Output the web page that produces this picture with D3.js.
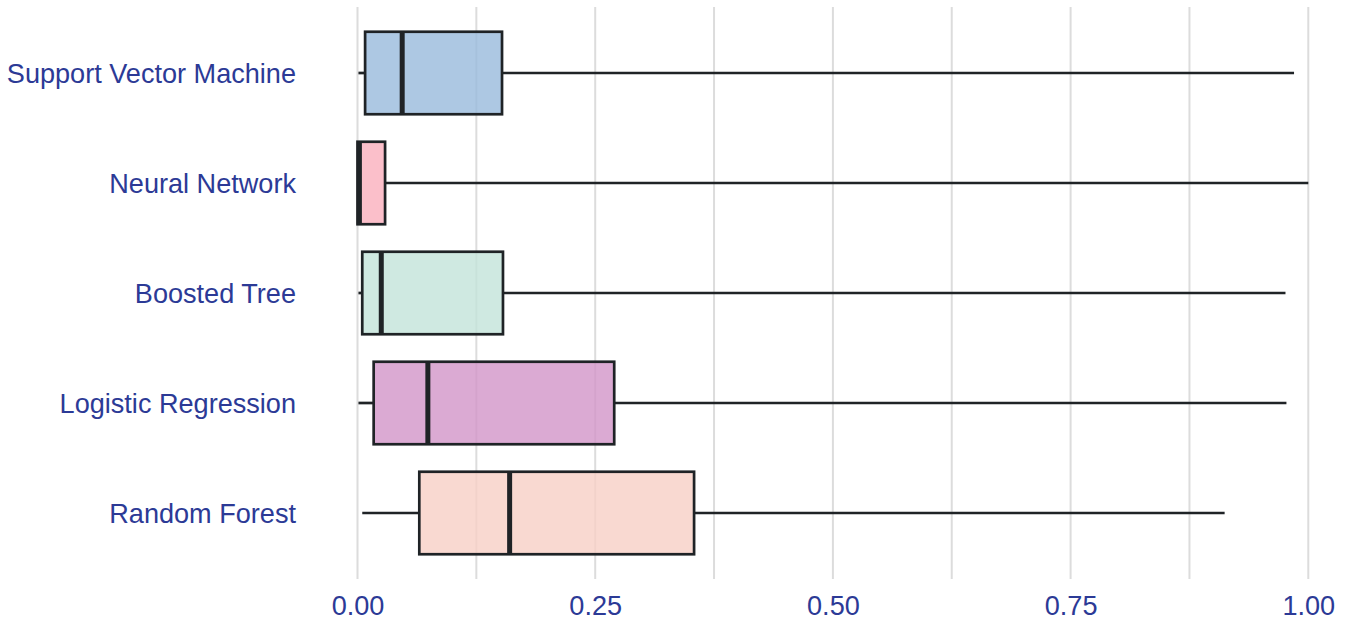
<!DOCTYPE html>
<html>
<head>
<meta charset="utf-8">
<script src="https://cdn.jsdelivr.net/npm/d3@7"></script>
<style>
  html, body { margin: 0; padding: 0; background: #fff; }
  svg { display: block; }
</style>
</head>
<body>
<svg id="chart" width="1349" height="623"></svg>
<script>
const categories = ["Support Vector Machine", "Neural Network", "Boosted Tree", "Logistic Regression", "Random Forest"];
const whiskerLow = [0.001, 0.000, 0.001, 0.001, 0.005];
const q1Values   = [0.008, 0.000, 0.005, 0.017, 0.065];
const medians    = [0.047, 0.002, 0.025, 0.074, 0.160];
const q3Values   = [0.152, 0.029, 0.153, 0.270, 0.354];
const whiskerHigh= [0.985, 1.000, 0.976, 0.977, 0.912];
const fillColors = ["#98badc", "#faafbd", "#c3e3d9", "#d295c8", "#f8d0c6"];
const tickValues = [0, 0.25, 0.5, 0.75, 1.0];
const gridValues = [0, 0.125, 0.25, 0.375, 0.5, 0.625, 0.75, 0.875, 1.0];

const svg = d3.select("#chart");
const x = d3.scaleLinear().domain([0, 1]).range([357.5, 1308.3]);
const y = d3.scaleLinear().domain([-0.6, 4.6]).range([7, 579]);
const boxH = (y(1) - y(0)) * 0.75;
const textColor = "#2c3a96";
const lineColor = "#1f2326";
const font = "'Liberation Sans', Arial, sans-serif";
const fontSize = 27.1;

// grid
svg.append("g").selectAll("line").data(gridValues).join("line")
  .attr("x1", d => x(d)).attr("x2", d => x(d))
  .attr("y1", 7).attr("y2", 579)
  .attr("stroke", "#dcdcdc").attr("stroke-width", 2);

// x axis labels
const xAxis = d3.axisBottom(x).tickValues(tickValues).tickFormat(d3.format(".2f")).tickSize(0).tickPadding(0);
const gx = svg.append("g").attr("transform", "translate(0,582)").call(xAxis);
gx.select(".domain").remove();
gx.selectAll("text").attr("font-family", font).attr("font-size", fontSize)
  .attr("fill", textColor).attr("dy", "1.2em");

// y labels
const idx = categories.map((c, i) => i);
svg.append("g").selectAll("text").data(categories).join("text")
  .attr("x", 296).attr("y", (d, i) => y(i) + 1).attr("dy", "0.35em")
  .attr("text-anchor", "end").attr("font-family", font).attr("font-size", fontSize)
  .attr("fill", textColor).text(d => d);

const g = svg.append("g");
idx.forEach(i => {
  const cy = y(i);
  g.append("line").attr("x1", x(whiskerLow[i])).attr("x2", x(q1Values[i]))
    .attr("y1", cy).attr("y2", cy).attr("stroke", lineColor).attr("stroke-width", 2.7);
  g.append("line").attr("x1", x(q3Values[i])).attr("x2", x(whiskerHigh[i]))
    .attr("y1", cy).attr("y2", cy).attr("stroke", lineColor).attr("stroke-width", 2.7);
  g.append("rect").attr("x", x(q1Values[i])).attr("y", cy - boxH / 2)
    .attr("width", x(q3Values[i]) - x(q1Values[i])).attr("height", boxH)
    .attr("fill", fillColors[i]).attr("fill-opacity", 0.8)
    .attr("stroke", lineColor).attr("stroke-width", 2.7);
  g.append("line").attr("x1", x(medians[i])).attr("x2", x(medians[i]))
    .attr("y1", cy - boxH / 2).attr("y2", cy + boxH / 2)
    .attr("stroke", lineColor).attr("stroke-width", 5);
});
</script>
</body>
</html>
